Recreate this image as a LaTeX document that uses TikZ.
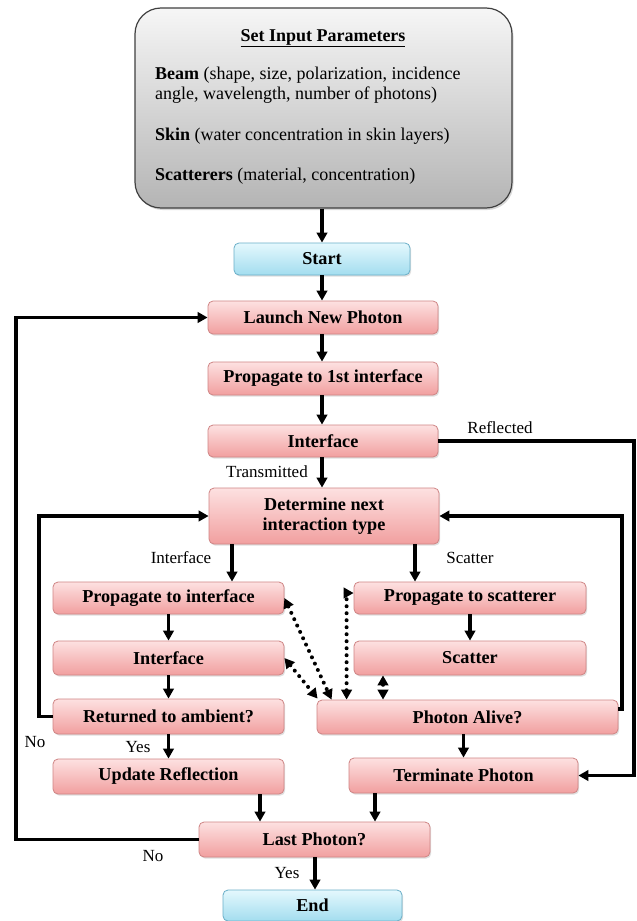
\documentclass[tikz,border=0pt]{standalone}
\usepackage{fontspec}
\setmainfont{Liberation Serif}
\usetikzlibrary{arrows.meta,shadows,calc}

\definecolor{pinkT}{HTML}{FDE1E1}
\definecolor{pinkB}{HTML}{F19F9F}
\definecolor{pinkD}{HTML}{CF8585}
\definecolor{blueT}{HTML}{E4F8FD}
\definecolor{blueB}{HTML}{A3DDEF}
\definecolor{blueD}{HTML}{6AAFC8}
\definecolor{grayT}{HTML}{F6F6F6}
\definecolor{grayB}{HTML}{B4B4B4}

\tikzset{
  box/.style={draw=pinkD, line width=0.8pt, rounded corners=5pt,
    top color=pinkT, bottom color=pinkB, inner sep=0pt,
    font=\fontsize{18.2}{20.5}\selectfont\bfseries, align=center,
    drop shadow={opacity=0.25, shadow xshift=1.2pt, shadow yshift=-1.6pt}},
  bluebox/.style={box, draw=blueD, top color=blueT, bottom color=blueB},
  parbox/.style={draw=black!75, line width=1.2pt, rounded corners=26pt,
    top color=grayT, bottom color=grayB,
    drop shadow={opacity=0.3, shadow xshift=1.5pt, shadow yshift=-2pt}},
  ptext/.style={inner sep=0pt, font=\fontsize{18}{20}\selectfont},
  lbl/.style={inner sep=0pt, font=\fontsize{17}{19}\selectfont},
  arr/.style={line width=3.2pt, -{Triangle[length=10pt,width=10.5pt]}},
  dotarr/.style={line width=4pt, line cap=round, dash pattern=on 0pt off 7pt,
    {Triangle[length=10pt,width=10.5pt]}-{Triangle[length=10pt,width=10.5pt]}},
}

\begin{document}
\begin{tikzpicture}[x=1pt,y=-1pt]
\useasboundingbox (0,0) rectangle (637,921);
\fill[white] (0,0) rectangle (637,921);

% parameters box
\node[parbox, minimum width=377pt, minimum height=200pt] (params) at (323.5,108) {};
\node[ptext, anchor=base] (ptitle) at (323,41) {\textbf{\underline{Set Input Parameters}}};
\node[ptext, anchor=base west] (pbeamA) at (155,79) {\textbf{Beam} (shape, size, polarization, incidence};
\node[ptext, anchor=base west] (pbeamB) at (155,99) {angle, wavelength, number of photons)};
\node[ptext, anchor=base west] (pskin) at (155,140) {\textbf{Skin} (water concentration in skin layers)};
\node[ptext, anchor=base west] (pscat) at (155,180) {\textbf{Scatterers} (material, concentration)};

% flow boxes
\node[bluebox, minimum width=176pt, minimum height=32pt] (start) at (322,259) {Start};
\node[box, minimum width=230pt, minimum height=33pt] (launch) at (323,317.5) {Launch New Photon};
\node[box, minimum width=230pt, minimum height=33pt] (prop1) at (323,378.5) {Propagate to 1st interface};
\node[box, minimum width=230pt, minimum height=32pt] (iface1) at (323,441) {Interface};
\node[box, minimum width=230pt, minimum height=56pt] (determine) at (324,516) {Determine next\\interaction type};
\node[box, minimum width=231pt, minimum height=32pt] (propi) at (168.5,598) {Propagate to interface};
\node[box, minimum width=232pt, minimum height=32pt] (props) at (470,598) {Propagate to scatterer};
\node[box, minimum width=231pt, minimum height=34pt] (iface2) at (168.5,658) {Interface};
\node[box, minimum width=232pt, minimum height=34pt] (scatter) at (470,658) {Scatter};
\node[box, minimum width=231pt, minimum height=35pt] (returned) at (168.5,716.5) {Returned to ambient?};
\node[box, minimum width=301pt, minimum height=34pt] (alive) at (467.5,717) {Photon Alive?};
\node[box, minimum width=231pt, minimum height=35pt] (update) at (168.5,776.5) {Update Reflection};
\node[box, minimum width=229pt, minimum height=35pt] (terminate) at (463.5,775.5) {Terminate Photon};
\node[box, minimum width=231pt, minimum height=35pt] (last) at (314.5,839.5) {Last Photon?};
\node[bluebox, minimum width=179pt, minimum height=31pt] (end) at (312.5,905.5) {End};

% helper columns
\coordinate (cL) at (232,0);
\coordinate (cR) at (415,0);
\coordinate (cU) at (260,0);
\coordinate (cT) at (375,0);
\coordinate (cLast) at (315,0);
\coordinate (cLoopL) at (39,0);
\coordinate (cLoopR) at (622,0);
\coordinate (cRefl) at (634,0);
\coordinate (cOut) at (16,0);
\coordinate (cS) at (383,0);

% main arrows
\draw[arr] (params.south -| start.north) -- (start.north);
\draw[arr] (start.south) -- (start.south |- launch.north);
\draw[arr] (launch.south -| start.south) -- (start.south |- prop1.north);
\draw[arr] (prop1.south -| start.south) -- (start.south |- iface1.north);
\draw[arr] (iface1.south -| start.south) -- (start.south |- determine.north);
\draw[arr] (determine.south -| cL) -- (cL |- propi.north);
\draw[arr] (determine.south -| cR) -- (cR |- props.north);
\draw[arr] (propi.south) -- (propi.south |- iface2.north);
\draw[arr] (iface2.south) -- (iface2.south |- returned.north);
\draw[arr] (returned.south) -- (returned.south |- update.north);
\draw[arr] (props.south) -- (props.south |- scatter.north);
\draw[arr] (alive.south -| terminate.north) -- (terminate.north);
\draw[arr] (update.south -| cU) -- (cU |- last.north);
\draw[arr] (terminate.south -| cT) -- (cT |- last.north);
\draw[arr] (last.south -| cLast) -- (cLast |- end.north);

% loops
\draw[arr] (iface1.east) -- (iface1.east -| cRefl) -- (cRefl |- terminate.east) -- (terminate.east);
\draw[arr] (returned.west) -- (returned.west -| cLoopL) -- (cLoopL |- determine.west) -- (determine.west);
\coordinate (aR) at ($(alive.east)+(0,-8)$);
\draw[arr] (aR) -- (aR -| cLoopR) -- (cLoopR |- determine.east) -- (determine.east);
\draw[arr] (last.west) -- (last.west -| cOut) -- (cOut |- launch.west) -- (launch.west);

% dotted double arrows
\draw[dotarr] (propi.east) -- ($(alive.north west)+(15,0)$);
\draw[dotarr] (iface2.east) -- ($(alive.north west)+(1,-1)$);
\draw[dotarr] ($(alive.north west)+(30,0)$) |- ($(props.west)+(0,-5)$);
\draw[dotarr] (scatter.south -| cS) -- (cS |- alive.north);

% labels
\node[lbl] (tTrans) at (267,472) {Transmitted};
\node[lbl] (tRefl) at (500,428) {Reflected};
\node[lbl] (tIface) at (181,558) {Interface};
\node[lbl] (tScat) at (470,558) {Scatter};
\node[lbl] (tNo1) at (35,742) {No};
\node[lbl] (tYes1) at (138,747) {Yes};
\node[lbl] (tNo2) at (153,856) {No};
\node[lbl] (tYes2) at (287,873) {Yes};
\end{tikzpicture}
\end{document}
